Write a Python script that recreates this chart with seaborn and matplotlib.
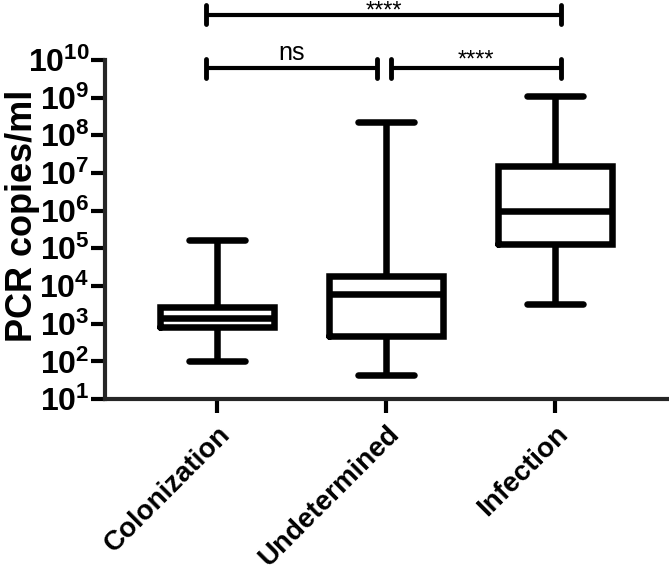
import numpy as np
import pandas as pd
import matplotlib
matplotlib.use("Agg")
import matplotlib.pyplot as plt
import matplotlib.transforms as mtransforms
import seaborn as sns

# box statistics (min, q1, median, q3, max), PCR copies/ml
groups = ["Colonization", "Undetermined", "Infection"]
col_stats = [1.0e2, 8.1e2, 1.4e3, 2.7e3, 1.65e5]
und_stats = [43, 4.7e2, 6.3e3, 1.8e4, 2.3e8]
inf_stats = [3.3e3, 1.3e5, 1.0e6, 1.5e7, 1.1e9]

ytick_exp = list(range(1, 11))

# significance comparisons: (group a, group b, row, label)
comparisons = [(0, 1, 0, "ns"), (1, 2, 0, "****"), (0, 2, 1, "****")]

sns.set_style("ticks")
plt.rcParams["font.family"] = ["Liberation Sans", "DejaVu Sans"]
plt.rcParams["mathtext.fontset"] = "custom"
plt.rcParams["mathtext.rm"] = "Liberation Sans"
plt.rcParams["mathtext.bf"] = "Liberation Sans:bold"
plt.rcParams["text.color"] = "black"
plt.rcParams["axes.labelcolor"] = "black"
plt.rcParams["xtick.color"] = "black"
plt.rcParams["ytick.color"] = "black"

# 5 values per group -> percentiles 0/25/50/75/100 hit them exactly
df = pd.DataFrame({
    "group": np.repeat(groups, 5),
    "copies": col_stats + und_stats + inf_stats,
})

fig = plt.figure(figsize=(6.69, 5.72), dpi=100)
ax = fig.add_axes([0.157, 0.3024, 0.843, 0.5927])

lw = 4.7
sns.boxplot(data=df, x="group", y="copies", order=groups, whis=(0, 100),
            log_scale=True, fill=False, color="black", linecolor="black",
            linewidth=lw, width=0.67, ax=ax,
            boxprops=dict(solid_joinstyle="miter"),
            capprops=dict(solid_capstyle="round"))

ax.set_ylim(1e1, 1e10)
ax.set_xlim(-0.663, 2.675)
ax.set_yticks([10.0 ** e for e in ytick_exp])
ax.set_yticklabels([r"$\mathbf{10^{%d}}$" % e for e in ytick_exp], fontsize=23)
ax.yaxis.set_minor_locator(matplotlib.ticker.NullLocator())
ax.set_xticks(range(len(groups)))
ax.set_xticklabels(groups, rotation=45, ha="right", rotation_mode="anchor",
                   fontsize=20, fontweight="bold")
shift = mtransforms.ScaledTranslation(-6 / 100, 0, fig.dpi_scale_trans)
for t in ax.get_xticklabels():
    t.set_transform(t.get_transform() + shift)
ax.set_xlabel("")
ax.set_ylabel("PCR copies/ml", fontsize=26, fontweight="bold")
ax.yaxis.set_label_coords(-0.115, 0.54)

for s in ["top", "right"]:
    ax.spines[s].set_visible(False)
for s in ["left", "bottom"]:
    ax.spines[s].set_linewidth(3)
ax.tick_params(axis="both", width=3, length=10, color="black", pad=1)
ax.tick_params(axis="x", pad=6)

# significance brackets
trans = mtransforms.blended_transform_factory(ax.transData, ax.transAxes)
px = 1 / 339.0
row_y = [0.976, 1.133]
cap = 0.028
for a, b, row, lab in comparisons:
    x0 = a - 0.065 if a == 0 else a + 0.03
    x1 = b + 0.035 if b == 2 else b - 0.053
    y = row_y[row]
    ax.plot([x0, x1], [y, y], color="black", lw=3, transform=trans,
            clip_on=False, solid_capstyle="butt")
    for xx in (x0, x1):
        ax.plot([xx, xx], [y - cap, y + cap], color="black", lw=3.5,
                transform=trans, clip_on=False, solid_capstyle="round")
    if lab == "ns":
        ax.text((x0 + x1) / 2, y + 8 * px, lab, transform=trans, ha="center",
                va="baseline", fontsize=18, clip_on=False)
    else:
        dy = 2 * px if row == 0 else -3 * px
        ax.text((x0 + x1) / 2, y + dy, lab, transform=trans, ha="center",
                va="baseline", fontsize=17, clip_on=False)

fig.savefig("out.png", dpi=100)
